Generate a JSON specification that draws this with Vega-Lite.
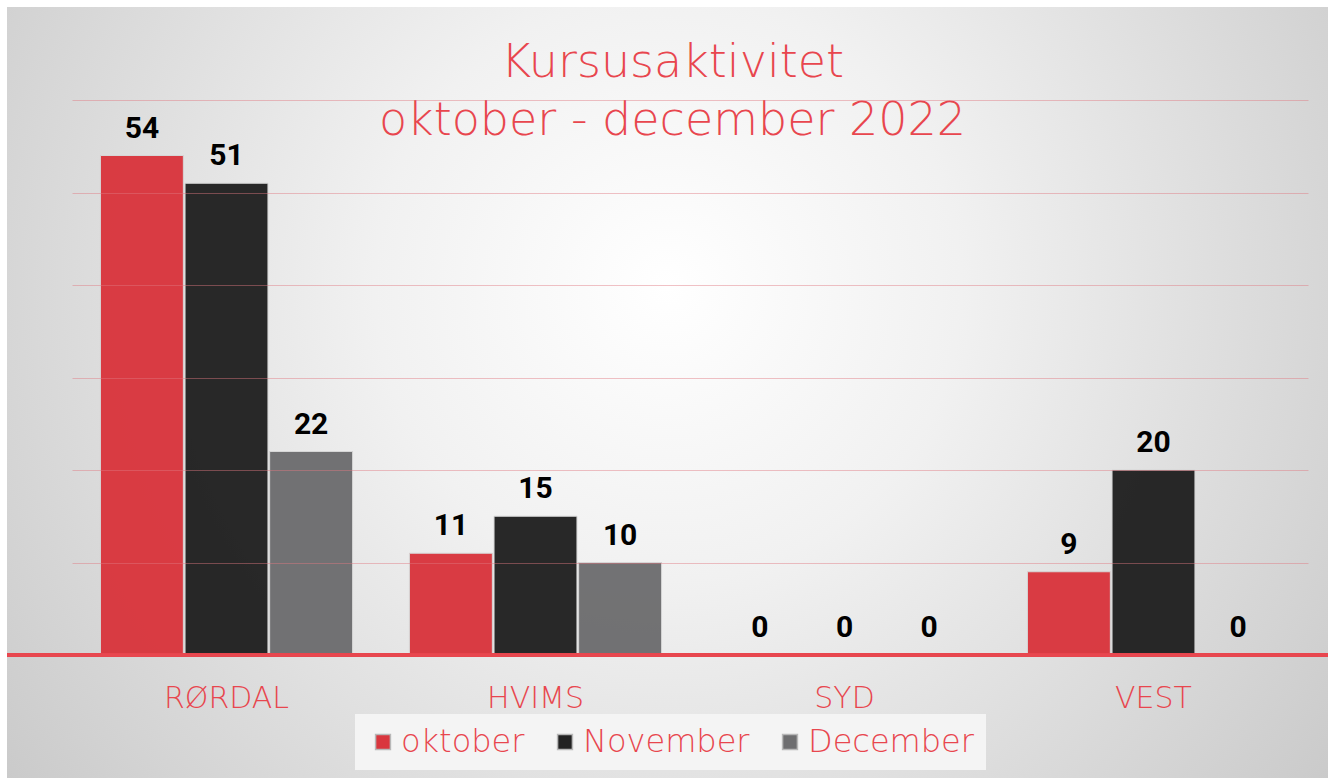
{
  "$schema": "https://vega.github.io/schema/vega-lite/v6.json",
  "width": 1321,
  "height": 771,
  "padding": {"left": 7, "top": 7, "right": 0, "bottom": 0},
  "autosize": {"type": "none"},
  "background": "#ffffff",
  "config": {
    "view": {"stroke": "#f2b9bc", "strokeWidth": 1, "fill": "#e2e2e2"},
    "font": "DejaVu Sans"
  },
  "title": {
    "text": ["Kursusaktivitet", "oktober - december 2022"],
    "fontSize": 46,
    "fontWeight": 200,
    "font": "DejaVu Sans",
    "color": "#e8464e",
    "lineHeight": 58,
    "anchor": "middle",
    "dx": 5,
    "offset": -138
  },
  "data": {
    "values": [
      {"region": "RØRDAL", "month": "oktober", "value": 54},
      {"region": "RØRDAL", "month": "November", "value": 51},
      {"region": "RØRDAL", "month": "December", "value": 22},
      {"region": "HVIMS", "month": "oktober", "value": 11},
      {"region": "HVIMS", "month": "November", "value": 15},
      {"region": "HVIMS", "month": "December", "value": 10},
      {"region": "SYD", "month": "oktober", "value": 0},
      {"region": "SYD", "month": "November", "value": 0},
      {"region": "SYD", "month": "December", "value": 0},
      {"region": "VEST", "month": "oktober", "value": 9},
      {"region": "VEST", "month": "November", "value": 20},
      {"region": "VEST", "month": "December", "value": 0}
    ]
  },
  "layer": [
    {
      "mark": {
        "type": "rect",
        "color": {
          "gradient": "radial",
          "x1": 0.5, "y1": 0.42, "r1": 0,
          "x2": 0.5, "y2": 0.42, "r2": 0.74,
          "stops": [
            {"offset": 0, "color": "#ffffff"},
            {"offset": 0.3, "color": "#f1f1f1"},
            {"offset": 1, "color": "#bfbfbf"}
          ]
        }
      },
      "encoding": {}
    },
    {
      "mark": {"type": "bar", "stroke": "#d6d6d6", "strokeWidth": 1, "opacity": 0.97},
      "encoding": {
        "x": {
          "field": "region", "type": "nominal",
          "scale": {"domain": ["RØRDAL", "HVIMS", "SYD", "VEST"], "range": [65, 1301], "paddingInner": 0.184, "paddingOuter": 0.092},
          "axis": {
            "title": null, "orient": "bottom", "offset": -123, "domain": false, "ticks": false,
            "labelPadding": 28, "labelFontSize": 30, "labelColor": "#e8464e", "labelFont": "DejaVu Sans",
            "labelFontWeight": 200, "labelAngle": 0, "grid": false, "zindex": 1
          }
        },
        "xOffset": {
          "field": "month", "type": "nominal",
          "scale": {"domain": ["oktober", "November", "December"], "paddingInner": 0.02}
        },
        "y": {
          "field": "value", "type": "quantitative",
          "scale": {"domain": [-13.297, 70.054], "nice": false, "zero": false},
          "axis": {
            "values": [10, 20, 30, 40, 50, 60], "grid": true, "gridColor": "#e07880", "gridOpacity": 0.45,
            "labels": false, "ticks": false, "domain": false, "title": null, "zindex": 1
          }
        },
        "color": {
          "field": "month", "type": "nominal",
          "scale": {"domain": ["oktober", "November", "December"], "range": ["#d9363e", "#222222", "#6e6e70"]},
          "legend": {
            "title": null, "orient": "none", "legendX": 348, "legendY": 707, "direction": "horizontal",
            "fillColor": "#f4f4f4", "padding": 12, "symbolType": "square", "symbolSize": 220,
            "symbolStrokeColor": "#b8b8b8", "symbolStrokeWidth": 1.5, "symbolOpacity": 1,
            "labelFontSize": 32, "labelColor": "#e8464e", "labelFont": "DejaVu Sans", "labelFontWeight": 200,
            "labelOffset": 2, "columnPadding": 24, "labelLimit": 300
          }
        }
      }
    },
    {
      "mark": {"type": "text", "fontSize": 30, "fontWeight": "bold", "font": "Roboto", "color": "#000000", "dy": -18, "baseline": "alphabetic"},
      "encoding": {
        "x": {"field": "region", "type": "nominal"},
        "xOffset": {"field": "month", "type": "nominal"},
        "y": {"field": "value", "type": "quantitative"},
        "text": {"field": "value", "type": "quantitative"}
      }
    },
    {
      "mark": {"type": "rule", "stroke": "#e8474f", "strokeWidth": 3},
      "encoding": {
        "y": {"datum": 0}
      }
    }
  ]
}
